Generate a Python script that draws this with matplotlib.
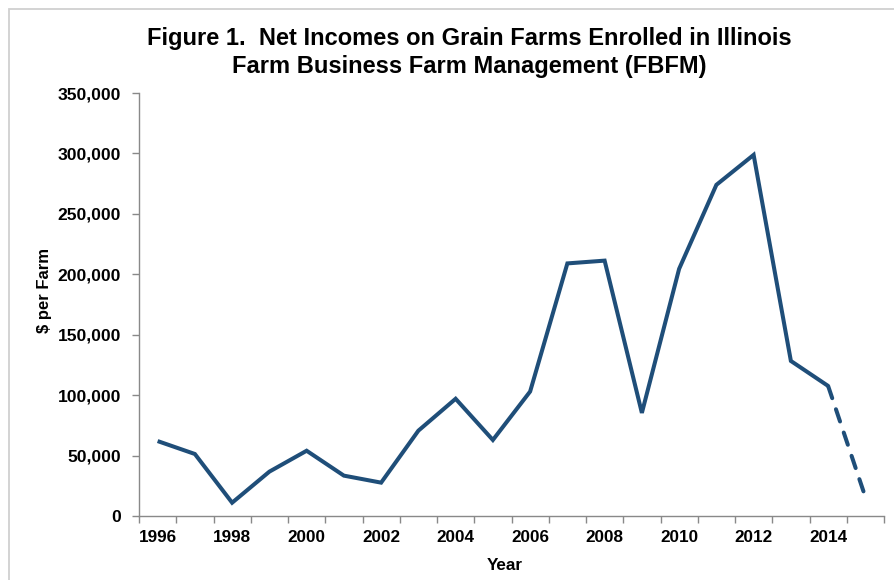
import matplotlib
matplotlib.use("Agg")
import matplotlib.pyplot as plt
from matplotlib.patches import Rectangle
from matplotlib.ticker import FuncFormatter

# ---------------------------------------------------------------------------
# Data
# ---------------------------------------------------------------------------
years = list(range(1996, 2016))
net_income = [62000, 51300, 11000, 36700, 54000, 33400, 27600, 70600, 97000,
              62900, 103000, 209000, 211300, 85300, 204500, 274000, 298800,
              128300, 107600]          # 1996-2014, reported
projected_years = [2014, 2015]
projected_income = [107600, 15700]      # 2015 projection (dashed)

tick_years = years[::2][:10]            # 1996 ... 2014

line_color = "#1F4E79"
axis_color = "#898989"

plt.rcParams["font.family"] = ["Liberation Sans", "DejaVu Sans"]
plt.rcParams["font.weight"] = "bold"

W, H = 894, 580
fig = plt.figure(figsize=(W / 100, H / 100), dpi=100)

# chart-area border (Excel style, cut at right/bottom)
fig.patches.append(Rectangle((9 / W, -0.05), 1.2, 1 - 9 / H + 0.05,
                             transform=fig.transFigure, fill=False,
                             edgecolor="#d0d0d0", linewidth=1.3))

ax = fig.add_axes([139 / W, 1 - 516 / H, (884 - 139) / W, (516 - 93) / H])

idx = {y: i for i, y in enumerate(years)}
ax.plot([idx[y] for y in years[:len(net_income)]], net_income,
        color=line_color, linewidth=2.9, solid_joinstyle="miter",
        solid_capstyle="butt")
ax.plot([idx[y] for y in projected_years], projected_income,
        color=line_color, linewidth=2.9, linestyle=(0, (3.2, 2.9)),
        dash_capstyle="round")

ax.set_xlim(-0.5, len(years) - 0.5)
ax.set_ylim(0, 350000)
ax.set_yticks(range(0, 350001, 50000))
ax.yaxis.set_major_formatter(FuncFormatter(lambda v, p: f"{int(v):,}"))

# category labels at every other year, tick marks at category boundaries
ax.set_xticks([idx[y] for y in tick_years])
ax.set_xticklabels([str(y) for y in tick_years])
ax.set_xticks([i - 0.5 for i in range(len(years) + 1)], minor=True)
ax.tick_params(axis="x", which="major", length=0, pad=10, labelsize=12.3)
ax.tick_params(axis="x", which="minor", length=5, width=1, color=axis_color,
               direction="out")
ax.tick_params(axis="y", which="major", length=5, width=1, color=axis_color,
               direction="out", labelsize=12.6, pad=8)

for side in ["top", "right"]:
    ax.spines[side].set_visible(False)
for side in ["left", "bottom"]:
    ax.spines[side].set_color(axis_color)
    ax.spines[side].set_linewidth(1)

fig.text(469 / W, 1 - 38 / H,
         "Figure 1.  Net Incomes on Grain Farms Enrolled in Illinois",
         ha="center", va="center", fontsize=17, fontweight="bold")
fig.text(469 / W, 1 - 66 / H, "Farm Business Farm Management (FBFM)",
         ha="center", va="center", fontsize=17, fontweight="bold")
fig.text(44 / W, 1 - 291 / H, "$ per Farm", rotation=90,
         ha="center", va="center", fontsize=12, fontweight="bold")
fig.text(505 / W, 1 - 565 / H, "Year",
         ha="center", va="center", fontsize=12.3, fontweight="bold")

fig.savefig("out.png", dpi=100)
